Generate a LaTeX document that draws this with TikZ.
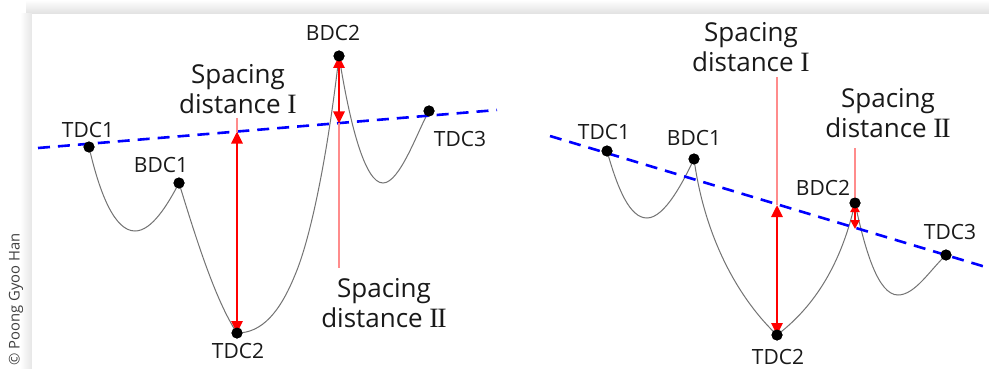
\documentclass[tikz,border=0pt]{standalone}
\usepackage{fontspec}
\setmainfont{Open Sans}
\newfontfamily\romfont{Liberation Serif}
\usetikzlibrary{arrows.meta}
\newcommand{\RomI}{{\romfont\fontsize{28}{30}\selectfont I}}
\newcommand{\RomII}{{\romfont\fontsize{28}{30}\selectfont I\kern-0.05em I}}
\begin{document}
\begin{tikzpicture}[x=1pt,y=-1pt,
  curve/.style={draw=black!55, line width=1pt},
  dot/.style={circle, fill=black, inner sep=0pt, minimum size=11pt},
  lbl/.style={font=\fontsize{21}{23}\selectfont, text=black!90, inner sep=0pt},
  sptext/.style={font=\fontsize{26}{30}\selectfont, text=black!90, align=center, inner sep=0pt},
  baseline/.style={draw=blue, line width=2.6pt, dash pattern=on 12pt off 8pt},
  darrow/.style={draw=red, line width=2.8pt, {Triangle[width=11pt,length=12pt]}-{Triangle[width=11pt,length=12pt]}},
  sarrow/.style={draw=red, line width=2.4pt, {Triangle[width=9pt,length=9pt]}-{Triangle[width=9pt,length=9pt]}},
  leader/.style={draw=red!45, line width=1.5pt}]
\useasboundingbox (0,0) rectangle (989,369);
% frame shadow
\shade[top color=white, bottom color=black!12] (26,0) rectangle (989,14);
\shade[left color=white, right color=black!10] (20,14) rectangle (32,369);
\fill[white] (32,14) rectangle (989,369);
% copyright
\node[rotate=90, anchor=east, font=\fontsize{14.8}{16}\selectfont, text=black!75, inner sep=0pt] (copy) at (16,233) {© Poong Gyoo Han};

% ===== left panel =====
\coordinate (LA) at (38,148);
\coordinate (LB) at (497,110);
\coordinate (LIx) at (237,131.5);
\coordinate (LIIx) at (339,123.5);
\coordinate (LItop) at (237,118);
\coordinate (LIIbot) at (339,268);
\node[dot] (LT1) at (89,147) {};
\node[dot] (LB1) at (179,183) {};
\node[dot] (LT2) at (237,333) {};
\node[dot] (LB2) at (339,56) {};
\node[dot] (LT3) at (429,111) {};
\draw[curve] (LT1.center) .. controls (100,195) and (115,231) .. (135,231)
  .. controls (152,231) and (168,204) .. (LB1.center)
  .. controls (195,235) and (215,300) .. (LT2.center)
  .. controls (262,333) and (280,312) .. (295,275)
  .. controls (310,240) and (327,160) .. (LB2.center)
  .. controls (350,125) and (365,183) .. (383,183)
  .. controls (400,183) and (418,130) .. (LT3.center);
\draw[baseline] (LA) -- (LB);
\draw[leader] (LItop) -- (LIx);
\draw[leader] (LIIx) -- (LIIbot);
\draw[darrow] (LIx) -- (LT2.center);
\draw[darrow] (LB2.center) -- (LIIx);
\foreach \n in {LT1,LB1,LT2,LB2,LT3} \fill (\n) circle (5.5pt);
\node[lbl] (lt1) at (88,130) {TDC1};
\node[lbl] (lb1) at (161,165) {BDC1};
\node[lbl] (lt2) at (238,351) {TDC2};
\node[lbl] (lb2) at (333,33) {BDC2};
\node[lbl] (lt3) at (460,139) {TDC3};
\node[sptext] (lsI) at (238,89) {Spacing\\distance \RomI};
\node[sptext] (lsII) at (384,303) {Spacing\\distance \RomII};

% ===== right panel =====
\coordinate (RA) at (550,136);
\coordinate (RB) at (989,268);
\coordinate (RIx) at (777,205);
\coordinate (RIIx) at (855,229);
\coordinate (RItop) at (777,77);
\coordinate (RIItop) at (855,148);
\node[dot] (RT1) at (607,151) {};
\node[dot] (RB1) at (694,159) {};
\node[dot] (RT2) at (777,335) {};
\node[dot] (RB2) at (855,203) {};
\node[dot] (RT3) at (946,255) {};
\draw[curve] (RT1.center) .. controls (618,190) and (630,218) .. (647,218)
  .. controls (665,218) and (684,180) .. (RB1.center)
  .. controls (705,240) and (740,300) .. (RT2.center)
  .. controls (810,310) and (840,270) .. (RB2.center)
  .. controls (865,250) and (878,295) .. (898,295)
  .. controls (915,295) and (930,270) .. (RT3.center);
\draw[baseline] (RA) -- (RB);
\draw[leader] (RItop) -- (RIx);
\draw[leader] (RIItop) -- (RB2.center);
\draw[darrow] (RIx) -- (RT2.center);
\draw[sarrow] (RB2.center) -- (RIIx);
\foreach \n in {RT1,RB1,RT2,RB2,RT3} \fill (\n) circle (5.5pt);
\node[lbl] (rt1) at (604,132) {TDC1};
\node[lbl] (rb1) at (694,138) {BDC1};
\node[lbl] (rt2) at (778,357) {TDC2};
\node[lbl] (rb2) at (823,188) {BDC2};
\node[lbl] (rt3) at (950,232) {TDC3};
\node[sptext] (rsI) at (751,47) {Spacing\\distance \RomI};
\node[sptext] (rsII) at (888,113) {Spacing\\distance \RomII};
\end{tikzpicture}
\end{document}
